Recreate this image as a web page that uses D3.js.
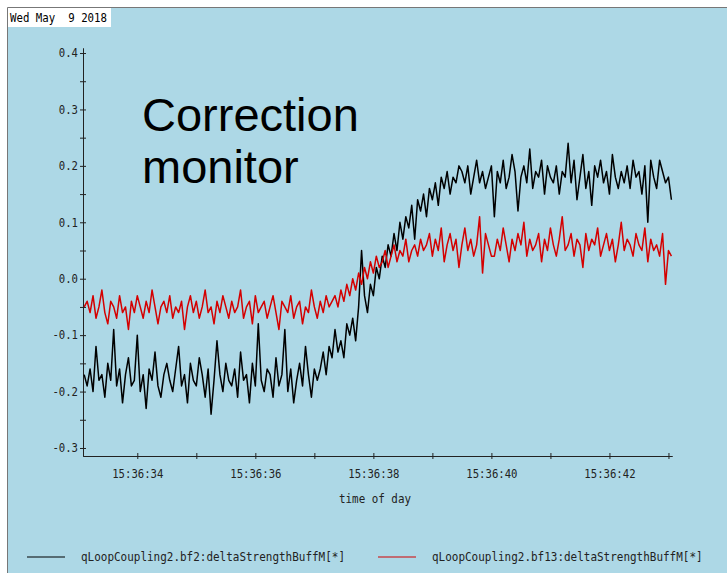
<!DOCTYPE html>
<html>
<head>
<meta charset="utf-8">
<script src="https://cdn.jsdelivr.net/npm/d3@7"></script>
<style>
  html, body { margin: 0; padding: 0; background: #fff; }
  svg { display: block; }
</style>
</head>
<body>
<div id="chart"></div>
<script>
// chart text
const dateLabel = 'Wed May  9 2018';
const titleLines = ['Correction', 'monitor'];
const xLabel = 'time of day';
const seriesNames = ['qLoopCoupling2.bf2:deltaStrengthBuffM[*]', 'qLoopCoupling2.bf13:deltaStrengthBuffM[*]'];
const seriesColors = ['#000000', '#d40000'];

// axis ticks (x = seconds past 15:36)
const yTickValues = [-0.3, -0.25, -0.2, -0.15, -0.1, -0.05, 0, 0.05, 0.1, 0.15, 0.2, 0.25, 0.3, 0.35, 0.4];
const yTickLabels = ['-0.3', '', '-0.2', '', '-0.1', '', '0.0', '', '0.1', '', '0.2', '', '0.3', '', '0.4'];
const xTickValues = [34, 35, 36, 37, 38, 39, 40, 41, 42, 43];
const xTickLabels = ['15:36:34', '', '15:36:36', '', '15:36:38', '', '15:36:40', '', '15:36:42', ''];

// samples, one every 0.05 s starting at 15:36:33.10
const sampleStart = 33.10;
const sampleStep = 0.05;

const bf2 = [
  -0.17, -0.19, -0.16, -0.20, -0.12, -0.18, -0.17, -0.21, -0.15, -0.18,
  -0.09, -0.19, -0.16, -0.22, -0.17, -0.14, -0.19, -0.18, -0.10, -0.20,
  -0.17, -0.23, -0.16, -0.18, -0.13, -0.19, -0.21, -0.17, -0.15, -0.18,
  -0.20, -0.16, -0.12, -0.19, -0.17, -0.22, -0.15, -0.18, -0.19, -0.14,
  -0.17, -0.21, -0.16, -0.24, -0.18, -0.11, -0.17, -0.20, -0.15, -0.18,
  -0.19, -0.16, -0.21, -0.13, -0.18, -0.17, -0.22, -0.15, -0.19, -0.08,
  -0.18, -0.20, -0.16, -0.17, -0.21, -0.14, -0.19, -0.17, -0.09, -0.20,
  -0.16, -0.22, -0.18, -0.15, -0.19, -0.12, -0.17, -0.21, -0.16, -0.18,
  -0.16, -0.13, -0.17, -0.12, -0.14, -0.09, -0.13, -0.11, -0.14, -0.08,
  -0.10, -0.07, -0.11, -0.05, 0.05, -0.03, -0.06, -0.01, -0.03, 0.02,
  0.00, 0.04, 0.02, 0.06, 0.04, 0.08, 0.05, 0.10, 0.07, 0.11,
  0.09, 0.13, 0.07, 0.14, 0.12, 0.15, 0.11, 0.16, 0.14, 0.17,
  0.13, 0.18, 0.16, 0.19, 0.15, 0.18, 0.17, 0.20,
  0.19, 0.17, 0.20, 0.15, 0.18, 0.21, 0.17, 0.19, 0.16, 0.18,
  0.20, 0.11, 0.19, 0.17, 0.21, 0.16, 0.18, 0.22, 0.19, 0.12,
  0.18, 0.20, 0.17, 0.23, 0.16, 0.19, 0.18, 0.21, 0.15, 0.20,
  0.18, 0.17, 0.20, 0.15, 0.19, 0.18, 0.24, 0.17, 0.21, 0.14,
  0.18, 0.22, 0.16, 0.19, 0.13, 0.20, 0.18, 0.21, 0.17, 0.19,
  0.15, 0.22, 0.18, 0.16, 0.19, 0.17, 0.20, 0.16, 0.21, 0.18,
  0.19, 0.15, 0.20, 0.10, 0.21, 0.18, 0.16, 0.21, 0.19, 0.17,
  0.18, 0.14
];

const bf13 = [
  -0.05, -0.04, -0.06, -0.03, -0.07, -0.05, -0.02, -0.06, -0.08, -0.04,
  -0.05, -0.07, -0.03, -0.06, -0.05, -0.09, -0.04, -0.06, -0.03, -0.05,
  -0.07, -0.04, -0.06, -0.02, -0.05, -0.08, -0.05, -0.04, -0.06, -0.03,
  -0.07, -0.05, -0.06, -0.04, -0.09, -0.05, -0.03, -0.06, -0.04, -0.07,
  -0.05, -0.02, -0.06, -0.05, -0.08, -0.04, -0.06, -0.03, -0.05, -0.07,
  -0.04, -0.06, -0.05, -0.02, -0.07, -0.05, -0.04, -0.08, -0.03, -0.06,
  -0.05, -0.04, -0.07, -0.05, -0.03, -0.06, -0.09, -0.04, -0.05, -0.06,
  -0.03, -0.07, -0.05, -0.04, -0.08, -0.05, -0.06, -0.02, -0.05, -0.07,
  -0.04, -0.06, -0.03, -0.05, -0.04,
  -0.03, -0.05, -0.02, -0.04, -0.01, -0.03, 0.00, -0.02, 0.01, -0.01,
  0.02, 0.00, 0.03, 0.01, 0.04, 0.02, 0.03, 0.05, 0.02, 0.04,
  0.06, 0.03, 0.05, 0.04, 0.07, 0.03, 0.05, 0.06, 0.04, 0.07,
  0.05,
  0.06, 0.08, 0.04, 0.07, 0.05, 0.09, 0.03, 0.06, 0.08, 0.05,
  0.07, 0.02, 0.06, 0.09, 0.05, 0.07, 0.04, 0.06, 0.11, 0.01,
  0.08, 0.06, 0.04, 0.04, 0.07, 0.05, 0.09, 0.06, 0.03, 0.07,
  0.05, 0.08, 0.06, 0.10, 0.04, 0.07, 0.05, 0.06, 0.08, 0.03,
  0.07, 0.05, 0.09, 0.06, 0.04, 0.07, 0.11, 0.05, 0.06, 0.08,
  0.04, 0.07, 0.06, 0.02, 0.08, 0.05, 0.07, 0.06, 0.09, 0.04,
  0.06, 0.08, 0.05, 0.07, 0.03, 0.06, 0.10, 0.05, 0.07, 0.06,
  0.04, 0.08, 0.06, 0.05, 0.09, 0.03, 0.07, 0.05, 0.06, 0.04,
  0.08, -0.01, 0.05, 0.04
];

const W = 727, H = 573;
const mono = "'DejaVu Sans Mono', 'Liberation Mono', monospace";

const svg = d3.select('#chart').append('svg')
  .attr('width', W)
  .attr('height', H);

// panel background and frame
svg.append('rect')
  .attr('x', 8).attr('y', 8)
  .attr('width', W - 8).attr('height', H - 8)
  .attr('fill', '#add8e6');
svg.append('path')
  .attr('d', `M7.5,${H}V7.5H${W}`)
  .attr('fill', 'none')
  .attr('stroke', '#777')
  .attr('stroke-width', 1);

// date stamp
svg.append('rect')
  .attr('x', 8).attr('y', 8)
  .attr('width', 103).attr('height', 19)
  .attr('fill', '#fff');
svg.append('text')
  .attr('x', 10).attr('y', 22)
  .attr('font-family', mono)
  .attr('font-size', 12)
  .attr('textLength', 97)
  .attr('lengthAdjust', 'spacingAndGlyphs')
  .style('white-space', 'pre')
  .text(dateLabel);

const x = d3.scaleLinear()
  .domain([33.08, 43.06])
  .range([83, 672]);

const y = d3.scaleLinear()
  .domain([-0.3142, 0.4089])
  .range([456, 48]);

const styleAxis = (g) => {
  g.attr('font-family', mono).attr('font-size', 12);
  g.selectAll('.domain').attr('stroke', '#222');
  g.selectAll('.tick line').attr('stroke', '#222');
  g.selectAll('.tick text').attr('fill', '#222')
    .attr('lengthAdjust', 'spacingAndGlyphs')
    .attr('textLength', function () { return this.textContent.length * 6.4; });
};

// x axis: labelled ticks below, plain ticks above so they cross the line
const xAxisY = 456;
svg.append('g')
  .attr('transform', `translate(0,${xAxisY})`)
  .call(d3.axisBottom(x).tickValues(xTickValues)
    .tickFormat((d, i) => xTickLabels[i])
    .tickSizeInner(3).tickSizeOuter(0).tickPadding(10))
  .call(styleAxis);
svg.append('g')
  .attr('transform', `translate(0,${xAxisY})`)
  .call(d3.axisTop(x).tickValues(xTickValues).tickFormat('')
    .tickSizeInner(3).tickSizeOuter(0))
  .call(styleAxis);

// y axis
const yAxisX = 83;
svg.append('g')
  .attr('transform', `translate(${yAxisX},0)`)
  .call(d3.axisLeft(y).tickValues(yTickValues)
    .tickFormat((d, i) => yTickLabels[i])
    .tickSizeInner(3).tickSizeOuter(0).tickPadding(2))
  .call(styleAxis);
svg.append('g')
  .attr('transform', `translate(${yAxisX},0)`)
  .call(d3.axisRight(y).tickValues(yTickValues).tickFormat('')
    .tickSizeInner(3).tickSizeOuter(0))
  .call(styleAxis);

// x axis title
svg.append('text')
  .attr('x', 375).attr('y', 503)
  .attr('text-anchor', 'middle')
  .attr('font-family', mono)
  .attr('font-size', 12)
  .attr('fill', '#222')
  .attr('textLength', 72)
  .attr('lengthAdjust', 'spacingAndGlyphs')
  .text(xLabel);

// traces
const line = d3.line()
  .x((d, i) => x(sampleStart + i * sampleStep))
  .y((d) => y(d));

[bf2, bf13].forEach((values, k) => {
  svg.append('path')
    .datum(values)
    .attr('fill', 'none')
    .attr('stroke', seriesColors[k])
    .attr('stroke-width', 1.5)
    .attr('stroke-linejoin', 'round')
    .attr('d', line);
});

// big title text
svg.append('text')
  .attr('font-family', "'Liberation Sans', Arial, sans-serif")
  .attr('font-size', 47)
  .attr('fill', '#000')
  .selectAll('tspan')
  .data(titleLines)
  .enter()
  .append('tspan')
  .attr('x', 142)
  .attr('y', (d, i) => 131 + i * 52)
  .text((d) => d);

// legend
const legendX = [27, 378];
const legend = svg.append('g');
seriesNames.forEach((name, k) => {
  legend.append('line')
    .attr('x1', legendX[k]).attr('x2', legendX[k] + 38)
    .attr('y1', 557).attr('y2', 557)
    .attr('stroke', seriesColors[k])
    .attr('stroke-width', 1.2);
  legend.append('text')
    .attr('x', legendX[k] + 54).attr('y', 561)
    .attr('font-family', mono)
    .attr('font-size', 12)
    .attr('fill', '#222')
    .attr('textLength', name.length * 6.6)
    .attr('lengthAdjust', 'spacingAndGlyphs')
    .text(name);
});
</script>
</body>
</html>
